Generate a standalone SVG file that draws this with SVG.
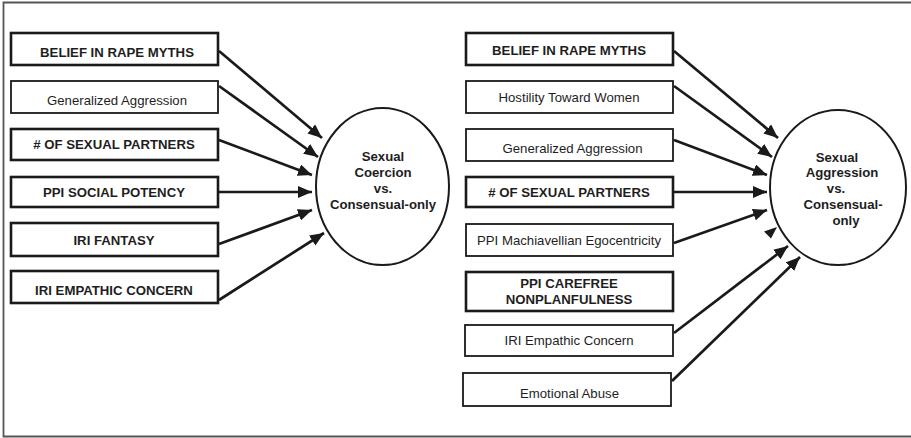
<svg xmlns="http://www.w3.org/2000/svg" width="911" height="438" viewBox="0 0 911 438">
<style>
.frame{fill:none;stroke:#555;stroke-width:1.8}
.bx{fill:#fff;stroke:#1a1a1a;stroke-width:1.8}
.bxb{fill:#fff;stroke:#1a1a1a;stroke-width:2.6}
.el{fill:#fff;stroke:#1a1a1a;stroke-width:2}
.t{font-family:"Liberation Sans",Arial,sans-serif;font-size:13.2px;fill:#1e1e1e;text-anchor:middle}
.b{font-weight:bold}
.c line{stroke:#1a1a1a;stroke-width:2.7;marker-end:url(#ah)}
</style>
<defs>
<marker id="ah" markerUnits="userSpaceOnUse" markerWidth="15" markerHeight="12" refX="14" refY="6" orient="auto">
<path d="M0,0 L14,6 L0,12 z" fill="#1a1a1a"/>
</marker>
</defs>
<rect width="911" height="438" fill="#fff"/>
<g id="frame">
<path class="frame" d="M911,2.5 H3.5 V436.5 H911"/>
</g>
<g class="c" id="connectors">
<line x1="219" y1="51" x2="322" y2="138"/>
<line x1="219" y1="86" x2="318" y2="157"/>
<line x1="219" y1="140" x2="312" y2="175"/>
<line x1="219" y1="192" x2="312" y2="192"/>
<line x1="219" y1="244" x2="312" y2="210"/>
<line x1="219" y1="300" x2="324" y2="233"/>
<line x1="674" y1="51" x2="778" y2="138"/>
<line x1="674" y1="86" x2="772" y2="157"/>
<line x1="674" y1="140" x2="767" y2="175"/>
<line x1="674" y1="192" x2="767" y2="192"/>
<line x1="674" y1="243" x2="767" y2="210"/>
<line x1="674" y1="333" x2="788" y2="246"/>
<line x1="672" y1="381" x2="800" y2="257"/>
<polygon points="777,227 764,231.5 771,238.5" fill="#1a1a1a"/>
</g>
<g id="L1"><rect class="bxb" x="11" y="33" width="207" height="32"/><text class="t b" x="117" y="57">BELIEF IN RAPE MYTHS</text></g>
<g id="L2"><rect class="bx" x="11" y="81" width="207" height="32"/><text class="t" x="117" y="105">Generalized Aggression</text></g>
<g id="L3"><rect class="bxb" x="11" y="129" width="207" height="31"/><text class="t b" x="114" y="149"># OF SEXUAL PARTNERS</text></g>
<g id="L4"><rect class="bxb" x="11" y="177" width="207" height="30"/><text class="t b" x="114" y="196.5">PPI SOCIAL POTENCY</text></g>
<g id="L5"><rect class="bxb" x="11" y="223" width="207" height="33"/><text class="t b" x="114" y="245">IRI FANTASY</text></g>
<g id="L6"><rect class="bxb" x="11" y="271" width="207" height="32"/><text class="t b" x="114" y="295">IRI EMPATHIC CONCERN</text></g>
<g id="LE"><ellipse class="el" cx="382.5" cy="186.5" rx="66.5" ry="78.5"/>
<text class="t b" x="383" y="161">Sexual</text>
<text class="t b" x="383" y="177">Coercion</text>
<text class="t b" x="383" y="193">vs.</text>
<text class="t b" x="383" y="209">Consensual-only</text></g>
<g id="R1"><rect class="bxb" x="466" y="33" width="207" height="32"/><text class="t b" x="569" y="55">BELIEF IN RAPE MYTHS</text></g>
<g id="R2"><rect class="bx" x="466" y="81" width="207" height="32"/><text class="t" x="569" y="102">Hostility Toward Women</text></g>
<g id="R3"><rect class="bx" x="466" y="129" width="207" height="32"/><text class="t" x="572.5" y="153">Generalized Aggression</text></g>
<g id="R4"><rect class="bxb" x="466" y="177" width="207" height="30"/><text class="t b" x="569" y="197"># OF SEXUAL PARTNERS</text></g>
<g id="R5"><rect class="bx" x="466" y="224" width="207" height="32"/><text class="t" x="569" y="245">PPI Machiavellian Egocentricity</text></g>
<g id="R6"><rect class="bxb" x="466" y="272" width="207" height="39"/><text class="t b" x="569" y="288">PPI CAREFREE</text><text class="t b" x="569" y="304">NONPLANFULNESS</text></g>
<g id="R7"><rect class="bx" x="465" y="325" width="208" height="31"/><text class="t" x="569" y="345">IRI Empathic Concern</text></g>
<g id="R8"><rect class="bx" x="463" y="373" width="208" height="33"/><text class="t" x="569.5" y="398">Emotional Abuse</text></g>
<g id="RE"><ellipse class="el" cx="838" cy="187.5" rx="68" ry="77.5"/>
<text class="t b" x="837" y="162">Sexual</text>
<text class="t b" x="842" y="177">Aggression</text>
<text class="t b" x="836" y="193">vs.</text>
<text class="t b" x="843" y="209">Consensual-</text>
<text class="t b" x="846" y="225">only</text></g>
</svg>
